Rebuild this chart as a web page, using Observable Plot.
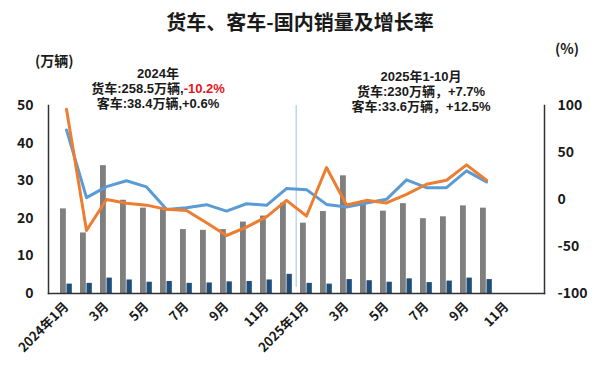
<!DOCTYPE html>
<html>
<head>
<meta charset="utf-8">
<script src="https://cdn.jsdelivr.net/npm/d3@7"></script>
<script src="https://cdn.jsdelivr.net/npm/@observablehq/plot@0.6"></script>
<style>
  html, body { margin: 0; padding: 0; background: #fff; }
  #wrap { position: relative; width: 600px; height: 370px; font-family: "Noto Sans CJK SC", "Noto Sans", sans-serif; color: #1a1a1a; overflow: hidden; }
  .t { position: absolute; white-space: nowrap; font-weight: bold; line-height: 1; }
  .c { transform: translateX(-50%); text-align: center; }
  .blk { line-height: 15px; font-size: 13px; font-family: "Liberation Sans", "Noto Sans CJK SC", sans-serif; }
  .red { color: #e8141b; }
</style>
</head>
<body>
<div id="wrap">
  <div id="chart"></div>
  <div class="t c" style="left:300px; top:12px; font-size:20px;">货车、客车-国内销量及增长率</div>
  <div class="t" style="left:35px; top:53px; font-size:14px;">(万辆)</div>
  <div class="t" style="left:555px; top:41px; font-size:14px;">(%)</div>
  <div class="t c blk" style="left:158px; top:66px;">2024年<br>货车:258.5万辆,<span class="red">-10.2%</span><br>客车:38.4万辆,+0.6%</div>
  <div class="t c blk" style="left:421px; top:69px;">2025年1-10月<br>货车:230万辆，+7.7%<br>客车:33.6万辆，+12.5%</div>
</div>
<script>
const months = ["2024-01","2024-02","2024-03","2024-04","2024-05","2024-06","2024-07","2024-08","2024-09","2024-10","2024-11","2024-12",
                "2025-01","2025-02","2025-03","2025-04","2025-05","2025-06","2025-07","2025-08","2025-09","2025-10","2025-11","2025-12"];
const xLabels = ["2024年1月","","3月","","5月","","7月","","9月","","11月","",
                 "2025年1月","","3月","","5月","","7月","","9月","","11月",""];
// 货车销量 (万辆)
const truckSales = [22.5,16.1,34.0,24.8,22.7,22.4,17.0,16.8,17.0,19.0,20.6,24.0,
                    18.7,21.8,31.3,24.6,21.9,23.9,19.9,20.4,23.3,22.7];
// 客车销量 (万辆)
const busSales = [2.5,2.7,4.1,3.6,3.0,3.2,2.7,2.8,3.1,3.2,3.6,5.1,
                  2.7,2.5,3.7,3.4,3.0,3.9,2.9,3.3,4.1,3.7];
// 增长率 (%) — orange line
const orangeGrowth = [96,-33,0,-4,-6,-10.5,-11.6,-24.8,-38.3,-29.4,-18.4,-1,
                      -17.6,34,-5.9,-0.9,-3.7,5.5,16.2,20.5,36.9,20.5];
// 增长率 (%) — blue line
const blueGrowth = [74,2,13.7,20,13.4,-10.5,-8.7,-5.5,-12.3,-4.5,-6.2,11.6,
                    10.5,-5.2,-8,-3.7,0.2,20.9,12.6,12.6,30.5,18.7];
const leftTicks = [0,10,20,30,40,50];
const rightTicks = [-100,-50,0,50,100];

// secondary axis: growth % mapped onto the primary (0–50) scale
const toLeft = d3.scaleLinear().domain([-100,100]).range([0,50]);

const bars = truckSales.map((v,i) => ({m: months[i], truck: v, bus: busSales[i]}));
const lineO = orangeGrowth.map((v,i) => ({m: months[i], g: v}));
const lineB = blueGrowth.map((v,i) => ({m: months[i], g: v}));
const labelOf = new Map(months.map((m,i) => [m, xLabels[i]]));

const W = 600, H = 370;
const bw = (W - 48 - 56) / months.length;

const chart = Plot.plot({
  width: W, height: H,
  marginLeft: 48, marginRight: 56, marginTop: 105, marginBottom: 77,
  style: {fontFamily: '"Noto Sans CJK SC", "Noto Sans", sans-serif', background: "transparent", overflow: "visible"},
  x: {type: "band", domain: months, padding: 0, axis: null, label: null},
  y: {domain: [0,50], axis: null, label: null},
  marks: [
    Plot.ruleX(["2025-01"], {dx: -bw/2, y1: 0, y2: 50, insetTop: -6, stroke: "#9dc3e6", strokeWidth: 1}),
    Plot.barY(bars, {x: "m", y: "truck", fill: "#7f7f7f", insetLeft: 4, insetRight: bw - 10.5}),
    Plot.barY(bars, {x: "m", y: "bus", fill: "#1f4e79", insetLeft: 10.5, insetRight: bw - 16.5}),
    Plot.lineY(lineB, {x: "m", y: d => toLeft(d.g), stroke: "#5b9bd5", strokeWidth: 3, strokeLinejoin: "round"}),
    Plot.lineY(lineO, {x: "m", y: d => toLeft(d.g), stroke: "#ed7d31", strokeWidth: 3, strokeLinejoin: "round"}),
    Plot.frame({anchor: "left", stroke: "#333", strokeWidth: 1.5}),
    Plot.frame({anchor: "right", stroke: "#333", strokeWidth: 1.5}),
    Plot.frame({anchor: "bottom", stroke: "#333", strokeWidth: 1.5}),
    Plot.axisY(leftTicks, {anchor: "left", label: null, tickSize: 0, tickPadding: 15, fontSize: 14, fontWeight: "bold", fill: "#1a1a1a"}),
    Plot.axisY(rightTicks.map(v => toLeft(v)), {anchor: "right", label: null, tickSize: 0, tickPadding: 13, fontSize: 14, fontWeight: "bold", fill: "#1a1a1a", textAnchor: "start",
      tickFormat: v => String(Math.round(toLeft.invert(v)))}),
    Plot.axisX(months.filter(m => labelOf.get(m) !== ""), {anchor: "bottom", label: null, tickSize: 0, tickPadding: 11, tickRotate: -45, fontSize: 13, fontWeight: "bold", fill: "#1a1a1a",
      tickFormat: m => labelOf.get(m)})
  ]
});
document.getElementById("chart").appendChild(chart);
</script>
</body>
</html>
